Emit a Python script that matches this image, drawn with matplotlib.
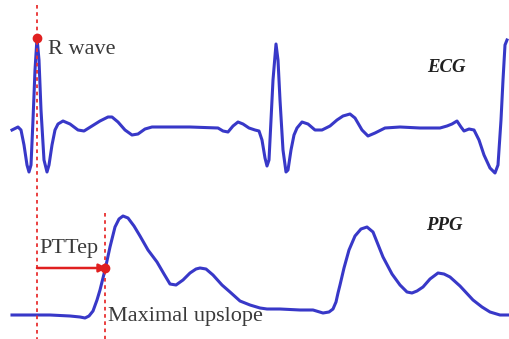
import matplotlib
matplotlib.use('Agg')
import matplotlib.pyplot as plt

# ECG trace (pixel-like units, y grows downward)
ecg_x = [12, 18, 21, 24, 27, 29, 31, 33, 35, 37, 39, 41, 44, 47, 49, 52, 55, 58, 63, 70,
         78, 84, 92, 100, 108, 112, 118, 125, 132, 138, 145, 152, 160, 190, 218, 223, 228,
         233, 238, 243, 249, 255, 259, 262, 265, 267, 269, 271, 273, 276, 278, 280, 283,
         286, 288, 291, 294, 297, 302, 308, 315, 322, 330, 337, 343, 350, 355, 362, 368,
         375, 385, 400, 420, 440, 447, 452, 457, 461, 464, 469, 474, 479, 484, 490, 495,
         498, 501, 503, 505, 507]
ecg_y = [130, 127, 130, 145, 165, 172, 165, 120, 70, 38, 60, 110, 160, 172, 165, 145, 130,
         124, 121, 124, 130, 131, 126, 121, 117, 117, 122, 130, 135, 134, 129, 127, 127,
         127, 128, 131, 132, 126, 122, 124, 128, 130, 131, 140, 158, 166, 160, 120, 80, 44,
         60, 100, 150, 172, 170, 150, 135, 128, 122, 124, 130, 130, 126, 120, 116, 114, 118,
         130, 136, 133, 128, 127, 128, 128, 126, 124, 121, 127, 131, 129, 130, 140, 155,
         168, 173, 165, 120, 80, 45, 40]

# PPG trace
ppg_x = [12, 30, 50, 70, 80, 85, 89, 93, 97, 100, 105, 110, 115, 119, 123, 128, 134, 140,
         148, 157, 164, 170, 176, 183, 190, 196, 200, 206, 213, 222, 230, 240, 250, 260, 267,
         280, 300, 313, 323, 329, 333, 336, 338, 340, 344, 349, 355, 361, 367, 373, 383, 392,
         400, 407, 412, 417, 423, 430, 438, 444, 450, 460, 473, 482, 490, 500, 508]
ppg_y = [315, 315, 315, 316, 317, 318, 316, 311, 300, 290, 270, 247, 227, 219, 216, 218,
         226, 236, 250, 262, 274, 284, 285, 280, 273, 269, 268, 269, 275, 285, 292, 301, 305,
         308, 309, 309, 310, 310, 313, 312, 309, 302, 293, 285, 268, 250, 236, 229, 227,
         232, 257, 274, 285, 292, 293, 291, 287, 279, 273, 274, 277, 286, 300, 307, 312,
         315, 315]

r_peak = (37, 38)
ppg_foot = (105, 268)
marker_lines = [37, 105]

fig = plt.figure(figsize=(5.09, 3.39), dpi=100)
ax = fig.add_axes([0, 0, 1, 1])
ax.set_xlim(0, 509)
ax.set_ylim(339, 0)
ax.axis('off')

ax.plot(ecg_x, ecg_y, color='#3838c8', lw=2.2, solid_joinstyle='round', zorder=2)
ax.plot(ppg_x, ppg_y, color='#3838c8', lw=2.2, solid_joinstyle='round', zorder=2)

# red dashed markers
ax.plot([marker_lines[0], marker_lines[0]], [5, 339], color='#e83030', lw=1.3,
        dashes=(2, 2), zorder=3)
ax.plot([marker_lines[1], marker_lines[1]], [213, 339], color='#e83030', lw=1.3,
        dashes=(2, 2), zorder=3)

ax.plot(*r_peak, 'o', color='#e02020', markersize=6, zorder=4)
ax.plot(*ppg_foot, 'o', color='#e02020', markersize=6, zorder=4)
ax.annotate('', xy=(ppg_foot[0] + 2, ppg_foot[1]), xytext=(marker_lines[0], ppg_foot[1]),
            arrowprops=dict(arrowstyle='-|>', color='#e02020', lw=1.8,
                            shrinkA=0, shrinkB=0, mutation_scale=12), zorder=4)

txt = dict(family='Liberation Serif', color='#3a3a3a')
ax.text(48, 50, 'R wave', fontsize=16, ha='left', va='center', **txt)
ax.text(39, 249, 'PTTep', fontsize=16, ha='left', va='center', **txt)
ax.text(108, 316, 'Maximal upslope', fontsize=16, ha='left', va='center', **txt)
ax.text(446, 68, 'ECG', fontsize=13.5, ha='center', va='center', weight='bold',
        style='italic', family='Liberation Serif', color='#202020')
ax.text(444, 225, 'PPG', fontsize=13.5, ha='center', va='center', weight='bold',
        style='italic', family='Liberation Serif', color='#202020')

fig.savefig('out.png', dpi=100)
